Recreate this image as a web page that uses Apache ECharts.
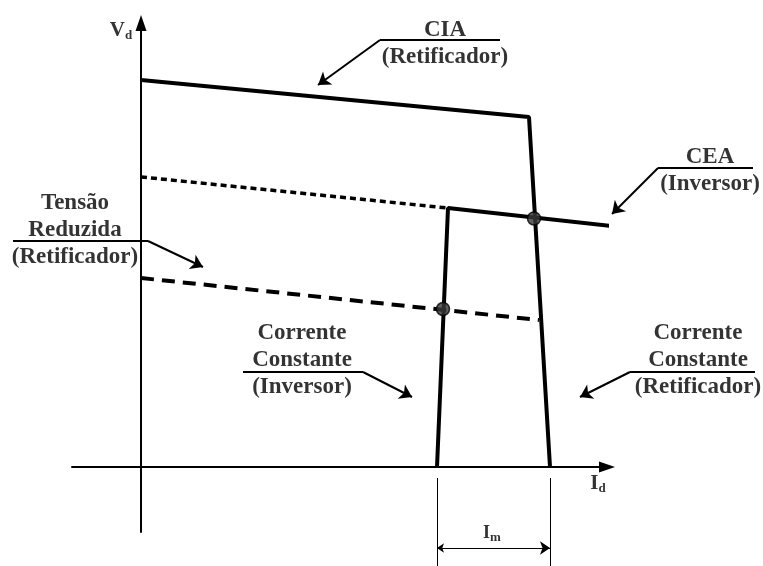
<!DOCTYPE html>
<html>
<head>
<meta charset="utf-8">
<script src="https://cdn.jsdelivr.net/npm/echarts@6/dist/echarts.min.js"></script>
<style>
  html, body { margin: 0; padding: 0; background: #fff; }
  #chart { width: 763px; height: 566px; }
</style>
</head>
<body>
<div id="chart"></div>
<script>
// curvas Vd x Id (unidades arbitrarias)
const ciaRetificador = [[0, 38.7], [38.8, 35.0], [40.9, 0]];
const ceaInversor = [[49.8, 23.8], [30.7, 25.9], [29.6, 0]];
const ceaPontilhado = [[0, 29.0], [30.7, 25.9]];
const tensaoReduzida = [[0, 18.9], [39.8, 14.7]];
const pontosOperacao = [[39.3, 24.85], [30.2, 15.8]];

// chamadas: ponta do sublinhado, canto, ponta da seta
const chamadas = [
  [[35.9, 42.7], [23.9, 42.7], [17.7, 38.2]],
  [[61.2, 29.9], [51.7, 29.9], [47.1, 25.3]],
  [[-12.8, 22.6], [0.7, 22.6], [6.2, 20.0]],
  [[10.2, 9.5], [22.2, 9.5], [27.1, 7.0]],
  [[61.4, 9.5], [48.9, 9.5], [43.9, 7.0]]
];
const textosChamadas = [
  'CIA\n(Retificador)',
  'CEA\n(Inversor)',
  'Tensão\nReduzida\n(Retificador)',
  'Corrente\nConstante\n(Inversor)',
  'Corrente\nConstante\n(Retificador)'
];
const posTextos = [[30.4, 42.35], [56.9, 29.6], [-6.6, 23.7], [16.1, 10.7], [55.7, 10.7]];

// cota Im
const cotaVerticais = [[[29.6, -1.1], [29.6, -9.9]], [[40.9, -1.1], [40.9, -9.9]]];
const cotaSeta = [[29.6, -8.1], [40.9, -8.1]];

// rotulos dos eixos
const rotulosEixos = ['{b|V}{s|d}', '{b|I}{s|d}', '{m|I}{s|m}'];
const posRotulos = [[-2.0, 43.6], [45.7, -1.7], [35.1, -6.6]];

const fonte = "'Liberation Serif', 'Times New Roman', serif";

const chart = echarts.init(document.getElementById('chart'));

const richSub = {
  b: { fontFamily: fonte, fontWeight: 'bold', fontSize: 21, color: '#000' },
  m: { fontFamily: fonte, fontWeight: 'bold', fontSize: 18, color: '#000' },
  s: { fontFamily: fonte, fontWeight: 'bold', fontSize: 13, color: '#000', padding: [10, 0, 0, 0] }
};

const eixo = (min, max) => ({
  type: 'value',
  min,
  max,
  axisLine: {
    onZero: true,
    symbol: ['none', 'triangle'],
    symbolSize: [11, 16],
    lineStyle: { color: '#000', width: 2 }
  },
  axisTick: { show: false },
  axisLabel: { show: false },
  splitLine: { show: false }
});

const option = {
  animation: false,
  grid: { left: 72, right: 156, top: 23, bottom: 34, outerBoundsMode: 'none' },
  xAxis: eixo(-6.9, 46.6),
  yAxis: eixo(-6.5, 44.4),
  series: [
    {
      name: 'CIA',
      type: 'line',
      data: ciaRetificador,
      showSymbol: false,
      clip: false,
      lineStyle: { color: '#000', width: 4 }
    },
    {
      name: 'CEA',
      type: 'line',
      data: ceaInversor,
      showSymbol: false,
      clip: false,
      lineStyle: { color: '#000', width: 4 }
    },
    {
      name: 'CEA pontilhado',
      type: 'line',
      data: ceaPontilhado,
      showSymbol: false,
      lineStyle: { color: '#000', width: 3.5, type: [6, 4] }
    },
    {
      name: 'Tensão Reduzida',
      type: 'line',
      data: tensaoReduzida,
      showSymbol: false,
      lineStyle: { color: '#000', width: 4, type: [13, 8] }
    },
    {
      name: 'Pontos',
      type: 'scatter',
      data: pontosOperacao,
      symbolSize: 13,
      z: 5,
      itemStyle: { color: '#3a3a3a', borderColor: '#000', borderWidth: 1.5 }
    },
    {
      name: 'Sublinhados',
      type: 'lines',
      coordinateSystem: 'cartesian2d',
      clip: false,
      symbol: 'none',
      lineStyle: { color: '#000', width: 2, opacity: 1 },
      data: chamadas.map(c => ({ coords: [c[0], c[1]] }))
    },
    {
      name: 'Setas',
      type: 'lines',
      coordinateSystem: 'cartesian2d',
      clip: false,
      symbol: ['none', 'arrow'],
      symbolSize: [9, 12],
      lineStyle: { color: '#000', width: 2, opacity: 1 },
      data: chamadas.map(c => ({ coords: [c[1], c[2]] }))
    },
    {
      name: 'Cota verticais',
      type: 'lines',
      coordinateSystem: 'cartesian2d',
      clip: false,
      symbol: 'none',
      lineStyle: { color: '#000', width: 1, opacity: 1 },
      data: cotaVerticais.map(c => ({ coords: c }))
    },
    {
      name: 'Cota Im',
      type: 'lines',
      coordinateSystem: 'cartesian2d',
      clip: false,
      symbol: ['arrow', 'arrow'],
      symbolSize: [7, 10],
      lineStyle: { color: '#000', width: 1, opacity: 1 },
      data: [{ coords: cotaSeta }]
    },
    {
      name: 'Textos',
      type: 'scatter',
      symbolSize: 0,
      clip: false,
      silent: true,
      label: {
        show: true,
        position: 'inside',
        formatter: p => p.data.texto,
        fontFamily: fonte,
        fontWeight: 'bold',
        fontSize: 23,
        lineHeight: 27,
        color: '#000',
        textBorderWidth: 0,
        align: 'center',
        verticalAlign: 'middle'
      },
      data: textosChamadas.map((t, i) => ({ value: posTextos[i], texto: t }))
    },
    {
      name: 'Rotulos',
      type: 'scatter',
      symbolSize: 0,
      clip: false,
      silent: true,
      label: {
        show: true,
        position: 'inside',
        formatter: p => p.data.texto,
        textBorderWidth: 0,
        align: 'center',
        verticalAlign: 'middle',
        rich: richSub
      },
      data: rotulosEixos.map((t, i) => ({ value: posRotulos[i], texto: t }))
    }
  ]
};

chart.setOption(option);
</script>
</body>
</html>
